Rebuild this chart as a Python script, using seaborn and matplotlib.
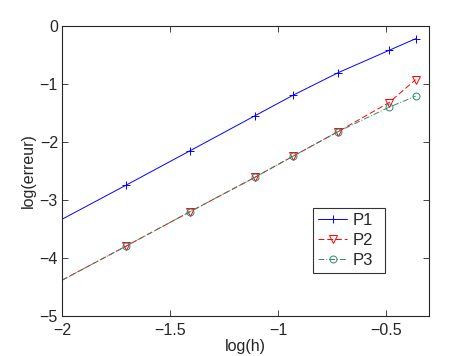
import pandas as pd
import matplotlib
matplotlib.use("Agg")
import matplotlib.pyplot as plt
import seaborn as sns

# data
log_h = [-2.0, -1.702, -1.407, -1.108, -0.928, -0.721, -0.485, -0.362]
p1 = [-3.33, -2.74, -2.15, -1.55, -1.19, -0.805, -0.42, -0.22]
p2 = [-4.38, -3.79, -3.20, -2.61, -2.24, -1.82, -1.32, -0.925]
p3 = [-4.38, -3.79, -3.20, -2.61, -2.24, -1.82, -1.40, -1.21]
# first point (x=-2) has no marker drawn in the reference
series = ["P1", "P2", "P3"]

sns.set_style("ticks")
plt.rcParams["font.family"] = ["Liberation Sans", "DejaVu Sans"]
plt.rcParams["xtick.direction"] = "in"
plt.rcParams["ytick.direction"] = "in"

fig = plt.figure(figsize=(4.74, 3.56), dpi=100)
ax = fig.add_axes([0.131, 0.112, 0.774, 0.815])

styles = {
    "P1": dict(color="#0000ff", linestyle="-", marker="+", markersize=6, mfc="none"),
    "P2": dict(color="#ff0000", linestyle=(0, (6, 3)), marker="v", markersize=5.5, mfc="none"),
    "P3": dict(color="#2a8a70", linestyle=(0, (6, 2, 1, 2)), marker="o", markersize=5, mfc="none"),
}
values = {"P1": p1, "P2": p2, "P3": p3}

for name in series:
    df = pd.DataFrame({"log(h)": log_h, "log(erreur)": values[name]})
    st = styles[name]
    sns.lineplot(data=df, x="log(h)", y="log(erreur)", ax=ax, label=name,
                 color=st["color"], linestyle=st["linestyle"], linewidth=0.7,
                 marker=st["marker"], markersize=st["markersize"],
                 markerfacecolor=st["mfc"], markeredgecolor=st["color"],
                 markeredgewidth=0.7, markevery=list(range(1, len(log_h))),
                 sort=False)

fs = 11.5
ax.set_xlim(-2, -0.3)
ax.set_ylim(-5, 0)
ax.set_xticks([-2, -1.5, -1, -0.5])
ax.set_xticklabels(["\u22122", "\u22121.5", "\u22121", "\u22120.5"])
ax.set_yticks([-5, -4, -3, -2, -1, 0])
ax.set_yticklabels(["\u22125", "\u22124", "\u22123", "\u22122", "\u22121", "0"])
ax.tick_params(top=True, right=True, labelsize=fs, length=4, width=0.6, pad=3)
ax.tick_params(axis="x", pad=5)
for s in ax.spines.values():
    s.set_linewidth(0.8)
ax.set_xlabel("log(h)", fontsize=fs, labelpad=1)
ax.set_ylabel("log(erreur)", fontsize=fs, labelpad=3)

leg = ax.legend(loc="lower left", bbox_to_anchor=(0.684, 0.148, 0.196, 0.238),
                mode="expand", fontsize=12,
                frameon=True, fancybox=False, edgecolor="black",
                handlelength=1.75, borderpad=0.3, labelspacing=0.3,
                handletextpad=0.35, borderaxespad=0)
leg.get_frame().set_linewidth(0.8)

fig.savefig("out.png", dpi=100)
plt.close(fig)
